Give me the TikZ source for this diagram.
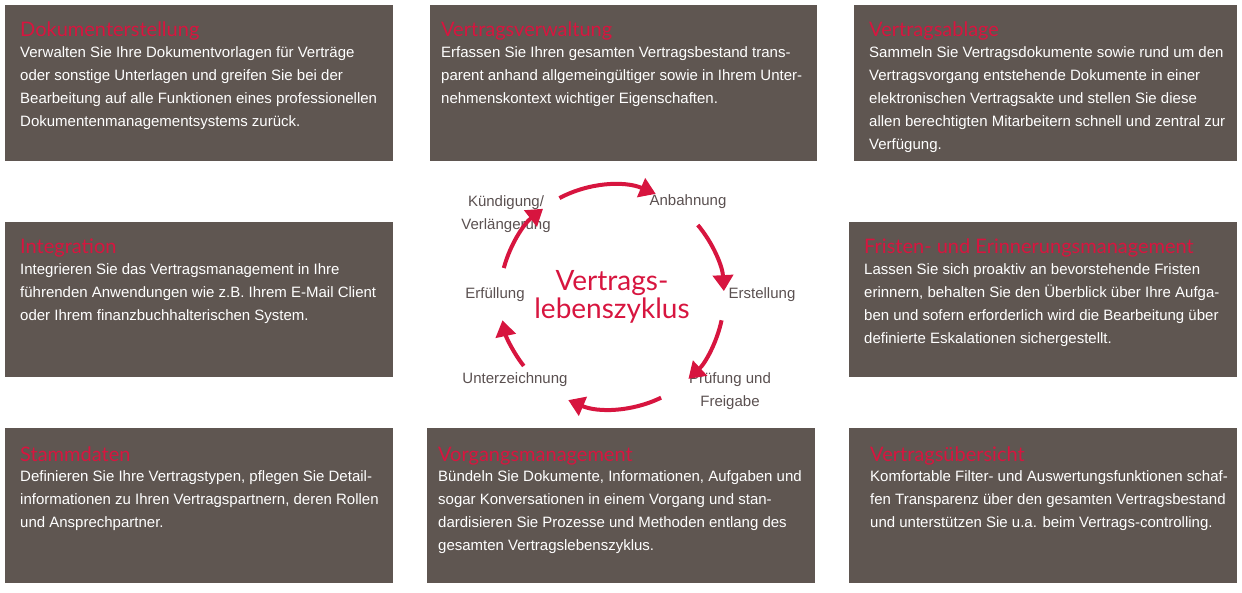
\documentclass[tikz,border=0pt]{standalone}
\usepackage{fontspec}
\setmainfont{Liberation Sans}
\newfontfamily\titlefont{Lato}
\definecolor{boxgray}{HTML}{5F5651}
\definecolor{vred}{HTML}{D7153F}
\definecolor{lbl}{HTML}{5A5050}
\usetikzlibrary{arrows.meta}
\tikzset{
  panel/.style={fill=boxgray, draw=none, anchor=north west, inner sep=0pt},
  ptitle/.style={anchor=base west, text=vred, font=\titlefont\fontsize{20}{20}\selectfont, inner sep=0pt},
  pbody/.style={anchor=north west, text=white, align=left, inner sep=0pt, font=\fontsize{15}{23}\selectfont},
  phase/.style={text=lbl, align=center, font=\fontsize{15}{23}\selectfont},
  cyc/.style={vred, line width=4pt, -{Triangle[length=16pt,width=20pt]}}
}
\begin{document}
\begin{tikzpicture}[x=1pt,y=-1pt]
  \useasboundingbox (0,0) rectangle (1242,593);
  % panels
  \node[panel, minimum width=388pt, minimum height=156pt] (p1) at (5,5) {};
  \node[panel, minimum width=387pt, minimum height=156pt] (p2) at (430,5) {};
  \node[panel, minimum width=383pt, minimum height=156pt] (p3) at (854,5) {};
  \node[panel, minimum width=388pt, minimum height=155pt] (p4) at (5,222) {};
  \node[panel, minimum width=388pt, minimum height=155pt] (p5) at (849,222) {};
  \node[panel, minimum width=388pt, minimum height=155pt] (p6) at (5,428) {};
  \node[panel, minimum width=388pt, minimum height=155pt] (p7) at (427,428) {};
  \node[panel, minimum width=388pt, minimum height=155pt] (p8) at (849,428) {};

  \node[ptitle] (t1) at (20,37) {Dokumenterstellung};
  \node[pbody] (b1) at (20,46) {Verwalten Sie Ihre Dokumentvorlagen für Verträge\\oder sonstige Unterlagen und greifen Sie bei der\\Bearbeitung auf alle Funktionen eines professionellen\\Dokumentenmanagementsystems zurück.};
  \node[ptitle] (t2) at (441,37) {Vertragsverwaltung};
  \node[pbody] (b2) at (441,46) {Erfassen Sie Ihren gesamten Vertragsbestand trans-\\parent anhand allgemeingültiger sowie in Ihrem Unter-\\nehmenskontext wichtiger Eigenschaften.};
  \node[ptitle] (t3) at (869,37) {Vertragsablage};
  \node[pbody] (b3) at (869,46) {Sammeln Sie Vertragsdokumente sowie rund um den\\Vertragsvorgang entstehende Dokumente in einer\\elektronischen Vertragsakte und stellen Sie diese\\allen berechtigten Mitarbeitern schnell und zentral zur\\Verfügung.};
  \node[ptitle] (t4) at (20,254) {Integration};
  \node[pbody] (b4) at (20,263) {Integrieren Sie das Vertragsmanagement in Ihre\\führenden Anwendungen wie z.B. Ihrem E-Mail Client\\oder Ihrem finanzbuchhalterischen System.};
  \node[ptitle] (t5) at (864,254) {Fristen- und Erinnerungsmanagement};
  \node[pbody] (b5) at (864,263) {Lassen Sie sich proaktiv an bevorstehende Fristen\\erinnern, behalten Sie den Überblick über Ihre Aufga-\\ben und sofern erforderlich wird die Bearbeitung über\\definierte Eskalationen sichergestellt.};
  \node[ptitle] (t6) at (20,461) {Stammdaten};
  \node[pbody] (b6) at (20,470) {Definieren Sie Ihre Vertragstypen, pflegen Sie Detail-\\informationen zu Ihren Vertragspartnern, deren Rollen\\und Ansprechpartner.};
  \node[ptitle] (t7) at (438,461) {Vorgangsmanagement};
  \node[pbody] (b7) at (438,470) {Bündeln Sie Dokumente, Informationen, Aufgaben und\\sogar Konversationen in einem Vorgang und stan-\\dardisieren Sie Prozesse und Methoden entlang des\\gesamten Vertragslebenszyklus.};
  \node[ptitle] (t8) at (870,461) {Vertragsübersicht};
  \node[pbody] (b8) at (870,470) {Komfortable Filter- und Auswertungsfunktionen schaf-\\fen Transparenz über den gesamten Vertragsbestand\\und unterstützen Sie u.a. beim Vertrags-controlling.};

  % cycle
  \coordinate (c) at (612,297);
  \node[text=vred, align=center, font=\titlefont\fontsize{28}{28}\selectfont] (mid) at (c) {Vertrags-\\lebenszyklus};
  \node[phase] (s1) at (688,202) {Anbahnung};
  \node[phase] (s2) at (762,295) {Erstellung};
  \node[phase] (s3) at (730,391) {Prüfung und\\Freigabe};
  \node[phase] (s4) at (515,380) {Unterzeichnung};
  \node[phase] (s5) at (495,295) {Erfüllung};
  \node[phase] (s6) at (506,214) {Kündigung/\\Verlängerung};

  \draw[cyc] ([shift={(-118:112)}]c) arc[start angle=-118, end angle=-67, radius=112];
  \draw[cyc] ([shift={(-40:112)}]c) arc[start angle=-40, end angle=-3, radius=112];
  \draw[cyc] ([shift={(12:112)}]c) arc[start angle=12, end angle=47, radius=112];
  \draw[cyc] ([shift={(64:112)}]c) arc[start angle=64, end angle=113, radius=112];
  \draw[cyc] ([shift={(142:112)}]c) arc[start angle=142, end angle=168, radius=112];
  \draw[cyc] ([shift={(-165:112)}]c) arc[start angle=-165, end angle=-128, radius=112];
\end{tikzpicture}
\end{document}
